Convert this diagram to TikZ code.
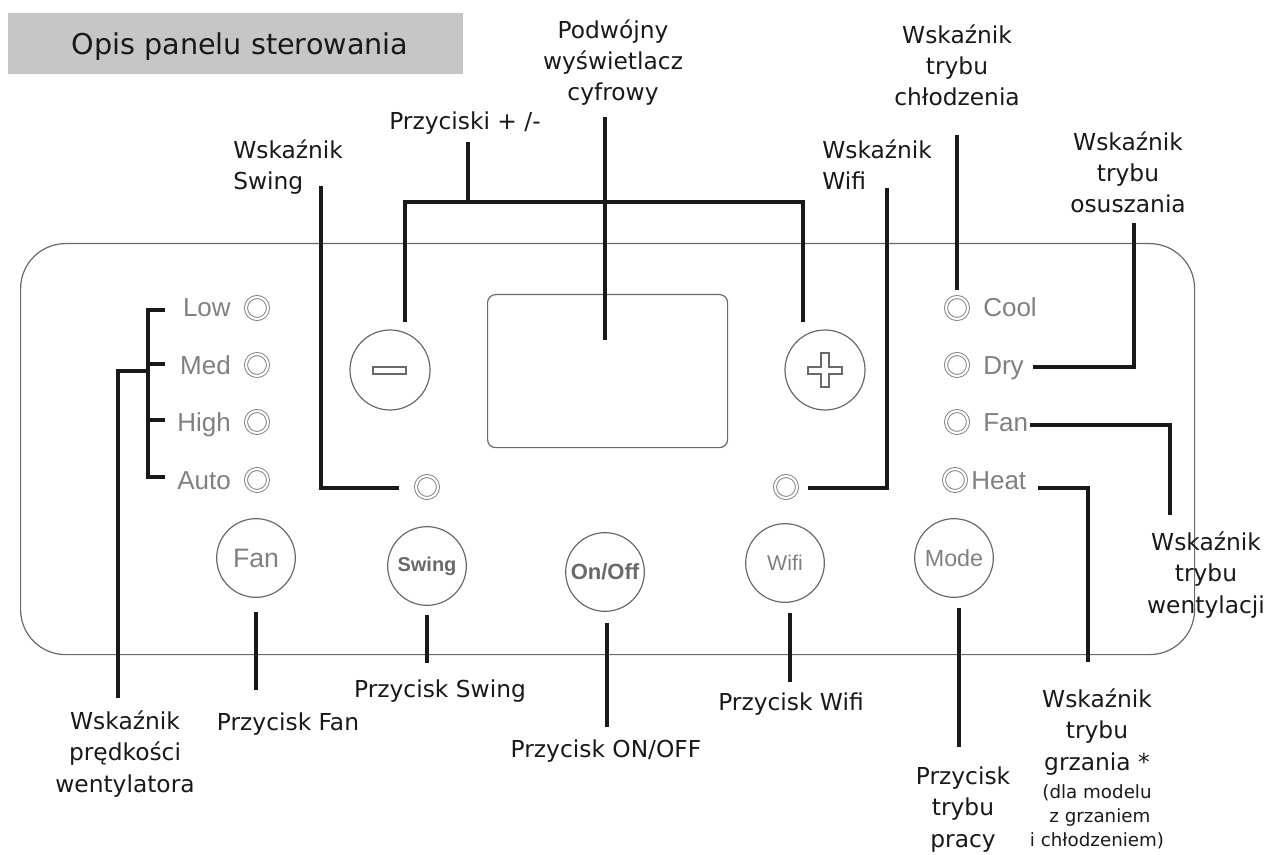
\documentclass[tikz,border=0pt]{standalone}
\usepackage{fontspec}
\setmainfont{DejaVu Sans}
\newfontfamily\panelfont{Liberation Sans}
\usetikzlibrary{calc}
\definecolor{ink}{RGB}{25,25,25}
\definecolor{ledtxt}{RGB}{128,128,128}
\definecolor{edge}{RGB}{105,105,105}
\definecolor{titlegray}{RGB}{198,198,198}
\begin{document}
\begin{tikzpicture}[x=0.75pt,y=-0.75pt,
  conn/.style={line width=2.7pt,draw=ink},
  lbl/.style={font=\fontsize{17.5}{23.6}\selectfont,text=ink,align=center,inner sep=0pt,anchor=base},
  note/.style={font=\fontsize{13.7}{18}\selectfont,text=ink,align=center,inner sep=0pt,anchor=base},
  btn/.style={circle,draw=edge,line width=0.9pt,minimum size=59pt,inner sep=0pt},
  led/.style={circle,draw=ledtxt,line width=0.7pt,double=white,double distance=1.6pt,minimum size=16.5pt,inner sep=0pt},
  ledlbl/.style={font=\panelfont\fontsize{19.5}{22}\selectfont,text=ledtxt,inner sep=0pt},
]
\useasboundingbox (0,0) rectangle (1266,855);

% title
\node[fill=titlegray,minimum width=341pt,minimum height=45.75pt,inner sep=0pt,anchor=north west] (title) at (8,13) {};
\node[font=\fontsize{21.5}{25}\selectfont,text=ink,anchor=base,inner sep=0pt] (titletxt) at (240,55) {Opis panelu sterowania};

% panel and display
\node[draw=edge,line width=0.9pt,rounded corners=33.75pt,minimum width=880.5pt,minimum height=308.25pt,anchor=north west,inner sep=0pt] (panel) at (20,243) {};
\node[draw=edge,line width=0.9pt,rounded corners=6pt,minimum width=180pt,minimum height=114.75pt,anchor=north west,inner sep=0pt] (display) at (487,294) {};

% +/- buttons
\node[btn,minimum size=60pt] (minus) at (390,370) {};
\draw[edge,line width=0.8pt] (373,367) rectangle (406,374);
\node[btn,minimum size=60pt] (plus) at (825,370) {};
\draw[edge,line width=0.8pt] (808,367) -- (821,367) -- (821,353) -- (829,353) -- (829,367) -- (842,367) -- (842,374) -- (829,374) -- (829,387) -- (821,387) -- (821,374) -- (808,374) -- cycle;

% bottom buttons
\node[btn] (bFan) at (256,558) {\panelfont\fontsize{20}{20}\selectfont\color{ledtxt}Fan};
\node[btn] (bSwing) at (427,566) {\panelfont\fontsize{15}{15}\selectfont\bfseries\color{edge}Swing};
\node[btn] (bOnOff) at (605,572) {\panelfont\fontsize{16.5}{16.5}\selectfont\bfseries\color{edge}On/Off};
\node[btn] (bWifi) at (785,563) {\panelfont\fontsize{16}{16}\selectfont\color{ledtxt}Wifi};
\node[btn] (bMode) at (954,558) {\panelfont\fontsize{17.5}{17.5}\selectfont\color{ledtxt}Mode};

% left LEDs
\node[led] (lLow) at (257,308) {};
\node[led] (lMed) at (257,365) {};
\node[led] (lHigh) at (257,422) {};
\node[led] (lAuto) at (257,480) {};
\node[ledlbl,anchor=base east] (tLow) at (231,317) {Low};
\node[ledlbl,anchor=base east] (tMed) at (231,374) {Med};
\node[ledlbl,anchor=base east] (tHigh) at (231,431) {High};
\node[ledlbl,anchor=base east] (tAuto) at (231,489) {Auto};

% swing / wifi LEDs
\node[led] (lSwing) at (427,487) {};
\node[led] (lWifi) at (786,487) {};

% right LEDs
\node[led] (lCool) at (957,308) {};
\node[led] (lDry) at (957,365) {};
\node[led] (lFan) at (957,422) {};
\node[led] (lHeat) at (955,480) {};
\node[ledlbl,anchor=base west] (tCool) at (983,317) {Cool};
\node[ledlbl,anchor=base west] (tDry) at (983,374) {Dry};
\node[ledlbl,anchor=base west] (tFan) at (983,431) {Fan};
\node[ledlbl,anchor=base west] (tHeat) at (971,489) {Heat};

% labels top (anchor base = last line baseline)
\node[lbl,align=left,anchor=base west] (swLbl) at (233,190) {Wskaźnik\\Swing};
\node[lbl] (pmLbl) at (465,130) {Przyciski + /-};
\node[lbl] (dispLbl) at (613,101) {Podwójny\\wyświetlacz\\cyfrowy};
\node[lbl,align=left,anchor=base west] (wfLbl) at (822,190) {Wskaźnik\\Wifi};
\node[lbl] (coolLbl) at (957,106) {Wskaźnik\\trybu\\chłodzenia};
\node[lbl] (dryLbl) at (1128,213) {Wskaźnik\\trybu\\osuszania};
\node[lbl] (fanLbl) at (1206,613) {Wskaźnik\\trybu\\wentylacji};

% labels bottom
\node[lbl] (spdLbl) at (125,792) {Wskaźnik\\prędkości\\wentylatora};
\node[lbl] (bFanLbl) at (288,730) {Przycisk Fan};
\node[lbl] (bSwingLbl) at (440,697) {Przycisk Swing};
\node[lbl] (bOnOffLbl) at (606,757) {Przycisk ON/OFF};
\node[lbl] (bWifiLbl) at (791,710) {Przycisk Wifi};
\node[lbl] (bModeLbl) at (963,847) {Przycisk\\trybu\\pracy};
\node[lbl] (heatLbl) at (1097,770) {Wskaźnik\\trybu\\grzania *};
\node[note] (heatNote) at (1097,846) {(dla modelu\\\ z grzaniem\\i chłodzeniem)};

% connector coordinates
\coordinate (pmTop) at (468,142);
\coordinate (pmMid) at (468,202);
\coordinate (pmL) at (405,322);
\coordinate (pmR) at (803,322);
\coordinate (dispTop) at (605,117);
\coordinate (dispEnd) at (605,340);
\coordinate (swTop) at (321,186);
\coordinate (swEnd) at (399,488);
\coordinate (wfTop) at (887,188);
\coordinate (wfEnd) at (808,488);
\coordinate (coolTop) at (957,135);
\coordinate (coolEnd) at (957,290);
\coordinate (dryTop) at (1134,223);
\coordinate (dryEnd) at (1033,367);
\coordinate (fanEnd) at (1170,515);
\coordinate (fanStart) at (1030,425);
\coordinate (heatStart) at (1038,488);
\coordinate (heatEnd) at (1088,662);
\coordinate (brTop) at (148,310);
\coordinate (brBot) at (148,477);
\coordinate (brMid) at (148,371);
\coordinate (spdEnd) at (118,698);

% connectors
\draw[conn] (pmTop) -- (pmMid);
\draw[conn] (pmL) |- (pmMid) -| (pmR);
\draw[conn] (dispTop) -- (dispEnd);
\draw[conn] (swTop) |- (swEnd);
\draw[conn] (wfTop) |- (wfEnd);
\draw[conn] (coolTop) -- (coolEnd);
\draw[conn] (dryEnd) -| (dryTop);
\draw[conn] (fanStart) -| (fanEnd);
\draw[conn] (heatStart) -| (heatEnd);
\draw[conn] (165,310) -- (brTop) -- (brBot) -- (165,477);
\draw[conn] (brTop |- 0,364) -- (165,364);
\draw[conn] (brTop |- 0,420) -- (165,420);
\draw[conn] (brMid) -| (spdEnd);

\draw[conn] (256,612) -- (256,690);
\draw[conn] (427,615) -- (427,663);
\draw[conn] (607,623) -- (607,727);
\draw[conn] (790,613) -- (790,682);
\draw[conn] (959,608) -- (959,747);
\end{tikzpicture}
\end{document}
